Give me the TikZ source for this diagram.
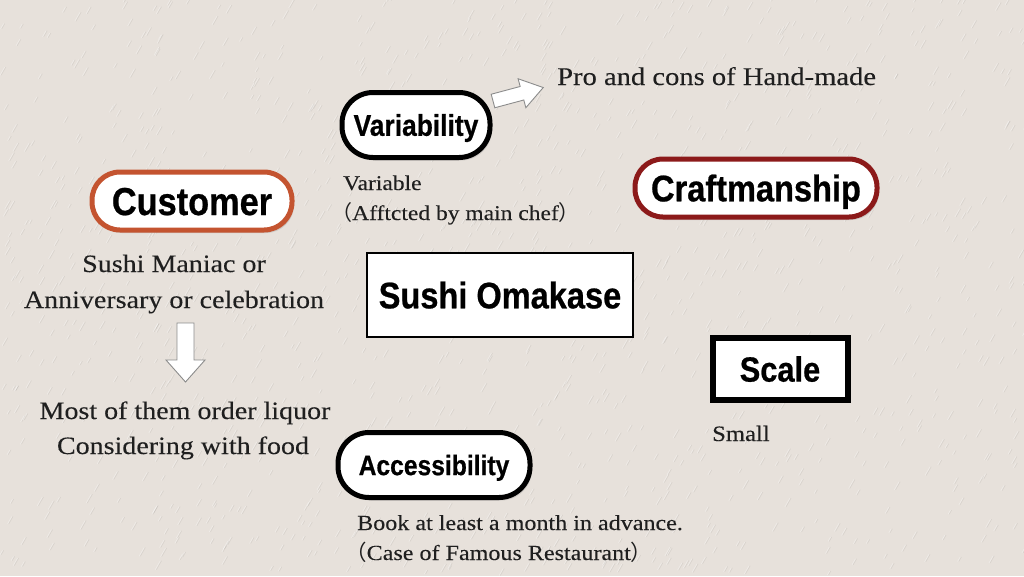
\documentclass[tikz,border=0pt]{standalone}
\usepackage{fontspec}
\usetikzlibrary{shadows}
\newfontfamily\hfont{Liberation Sans}[FakeStretch=0.88, BoldFeatures={FakeBold=0.6}]
\newfontfamily\sfont{Liberation Serif}[FakeStretch=1.12, FakeBold=0.15]
\newfontfamily\cjk{Noto Sans CJK JP}
\newcommand\lpar{{\cjk （}}
\newcommand\rpar{{\cjk ）}}
\definecolor{bg}{RGB}{231,225,219}
\definecolor{custc}{RGB}{196,84,48}
\definecolor{craftc}{RGB}{140,26,26}
\definecolor{arrowc}{RGB}{140,140,140}
\tikzset{
  pill/.style={draw, line width=5pt, fill=white, inner sep=0pt,
    drop shadow={opacity=0.25, shadow xshift=2pt, shadow yshift=-3pt}},
  boxnode/.style={draw, fill=white, inner sep=0pt},
  hd/.style={font=\hfont\bfseries\fontsize{#1}{#1}\selectfont,
    text height=\the\dimexpr #1pt*72/100\relax, text depth=0pt},
  txt/.style={font=\sfont\fontsize{#1}{#1}\selectfont, inner sep=0pt, text=black!88},
  blockarrow/.style={fill=white, draw=arrowc, line width=0.9pt, line join=miter},
  grain/.style={line width=0.7pt, line cap=round}
}
\begin{document}
\begin{tikzpicture}[x=1pt,y=-1pt]
\fill[bg] (0,0) rectangle (1024,576);
\useasboundingbox (0,0) rectangle (1024,576);
% paper grain
\pgfmathsetseed{7}
\foreach \i in {1,...,1400}{
  \pgfmathsetmacro{\gx}{rnd*1024}
  \pgfmathsetmacro{\gy}{rnd*576}
  \pgfmathsetmacro{\gl}{4+rnd*6}
  \draw[grain, white, opacity=0.35] (\gx,\gy) -- ++(\gl*0.5,-\gl*0.87);
  \draw[grain, black, opacity=0.06] (\gx+1.2,\gy) -- ++(\gl*0.5,-\gl*0.87);
}

% header nodes
\node[pill, draw=custc, minimum width=200pt, minimum height=58pt, rounded corners=28pt, hd=39] (cust) at (192,201) {Customer};
\node[pill, minimum width=148pt, minimum height=65pt, rounded corners=31pt, hd=30] (vari) at (416,125) {Variability};
\node[pill, draw=craftc, minimum width=242pt, minimum height=58pt, rounded corners=28pt, hd=37] (craft) at (756,188) {Craftmanship};
\node[pill, minimum width=192pt, minimum height=65pt, rounded corners=31pt, hd=28] (acc) at (434,465) {Accessibility};
\node[boxnode, line width=1.5pt, minimum width=266pt, minimum height=84pt, hd=37] (sushi) at (500,295) {Sushi Omakase};
\node[boxnode, line width=6pt, minimum width=135pt, minimum height=62pt, hd=35,
  drop shadow={opacity=0.3, shadow xshift=1pt, shadow yshift=-2pt}] (scale) at (780,369) {Scale};

% texts
\node[txt=25.5, anchor=base west] (pro) at (557,85) {Pro and cons of Hand-made};
\node[txt=21, anchor=base west] (var1) at (343,190) {Variable};
\node[txt=21, anchor=base west] (var2) at (331,220) {\lpar Afftcted by main chef\rpar};
\node[txt=25, anchor=base] (c1) at (174,272) {Sushi Maniac or};
\node[txt=25, anchor=base] (c2) at (174,308) {Anniversary or celebration};
\node[txt=25, anchor=base] (c3) at (185,419) {Most of them order liquor};
\node[txt=25, anchor=base] (c4) at (183,454) {Considering with food};
\node[txt=22, anchor=base west] (small) at (712,441) {Small};
\node[txt=21.5, anchor=base west] (a1) at (357,530) {Book at least a month in advance.};
\node[txt=21.5, anchor=base west] (a2) at (345,560) {\lpar Case of Famous Restaurant\rpar};

% arrows
\coordinate (dstart) at (185.5,323);
\draw[blockarrow] (dstart) ++(-8.5,0) -- ++(17,0) -- ++(0,37) -- ++(11,0) -- ++(-19.5,22) -- ++(-19.5,-22) -- ++(11,0) -- cycle;
\coordinate (rstart) at (493,101);
\begin{scope}[shift={(rstart)}, rotate=15]
\draw[blockarrow] (0,-7) -- (30,-7) -- (30,-15) -- (52,0) -- (30,15) -- (30,7) -- (0,7) -- cycle;
\end{scope}
\end{tikzpicture}
\end{document}
